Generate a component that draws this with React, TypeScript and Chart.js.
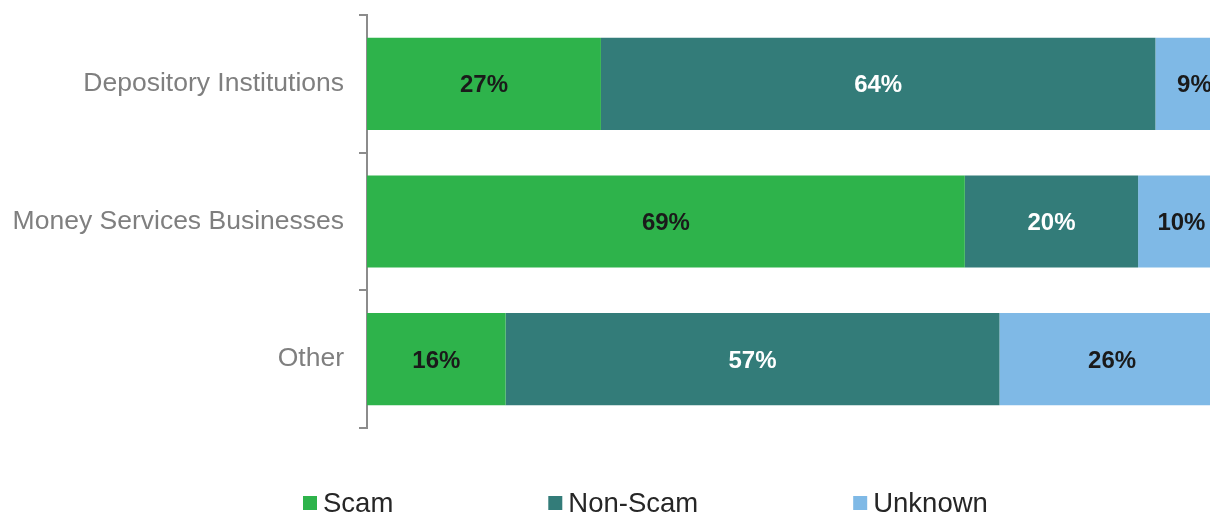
import React, { useEffect, useRef } from "react";
import { Chart, registerables } from "chart.js";

Chart.register(...registerables);

const categories = ["Depository Institutions", "Money Services Businesses", "Other"];
const seriesNames = ["Scam", "Non-Scam", "Unknown"];
const scamValues = [27, 69, 16];
const nonScamValues = [64, 20, 57];
const unknownValues = [9, 10, 26];
const seriesColors = ["#2EB34B", "#337C79", "#7FB9E6"];
const labelColors = ["#1a1a1a", "#ffffff", "#1a1a1a"];

const FONT = "'Liberation Sans', Arial, sans-serif";

const dataLabelPlugin = {
  id: "dataLabels",
  afterDatasetsDraw(chart: any) {
    const ctx = chart.ctx;
    ctx.save();
    ctx.font = `bold 24px ${FONT}`;
    ctx.textAlign = "center";
    ctx.textBaseline = "middle";
    chart.data.datasets.forEach((ds: any, di: number) => {
      const meta = chart.getDatasetMeta(di);
      meta.data.forEach((el: any, i: number) => {
        const p = el.getProps(["x", "y", "base"], true);
        const cx = (p.x + p.base) / 2;
        ctx.fillStyle = labelColors[di];
        ctx.fillText(`${ds.data[i]}%`, cx, p.y + 2);
      });
    });
    ctx.restore();
  },
};

const legendPlugin = {
  id: "customLegend",
  afterDraw(chart: any) {
    const ctx = chart.ctx;
    ctx.save();
    ctx.font = `27.5px ${FONT}`;
    ctx.textBaseline = "middle";
    ctx.textAlign = "left";
    let x = 303;
    const y = 503;
    seriesNames.forEach((name, i) => {
      ctx.fillStyle = seriesColors[i];
      ctx.fillRect(x, y - 7, 14, 14);
      x += 20;
      ctx.fillStyle = "#262626";
      ctx.fillText(name, x, y + 1);
      x += ctx.measureText(name).width + 155;
    });
    ctx.restore();
  },
};

export default function App() {
  const ref = useRef<HTMLCanvasElement>(null);
  useEffect(() => {
    document.body.style.margin = "0";
    const chart = new Chart(ref.current!, {
      type: "bar",
      data: {
        labels: categories,
        datasets: [
          { label: seriesNames[0], data: scamValues, backgroundColor: seriesColors[0] },
          { label: seriesNames[1], data: nonScamValues, backgroundColor: seriesColors[1] },
          { label: seriesNames[2], data: unknownValues, backgroundColor: seriesColors[2] },
        ],
      },
      options: {
        indexAxis: "y",
        responsive: false,
        animation: false,
        maintainAspectRatio: false,
        datasets: { bar: { barPercentage: 0.67, categoryPercentage: 1 } },
        layout: { padding: { top: 15, bottom: 86, left: 0, right: 0 } },
        plugins: { legend: { display: false }, tooltip: { enabled: false } },
        scales: {
          x: {
            stacked: true,
            min: 0,
            max: 97.3,
            display: false,
          },
          y: {
            stacked: true,
            afterFit: (s: any) => {
              s.width = 367;
              s.paddingTop = 0;
              s.paddingBottom = 0;
            },
            grid: {
              offset: true,
              drawOnChartArea: false,
              drawTicks: true,
              tickLength: 8,
              color: "#8c8c8c",
              lineWidth: 2,
            },
            border: { display: true, color: "#8c8c8c", width: 2 },
            ticks: {
              color: "#7f7f7f",
              padding: 15,
              font: { family: FONT, size: 26.5 },
            },
          },
        },
      },
      plugins: [dataLabelPlugin, legendPlugin],
    } as any);
    return () => chart.destroy();
  }, []);
  return <canvas ref={ref} width={1210} height={514} style={{ display: "block" }} />;
}
